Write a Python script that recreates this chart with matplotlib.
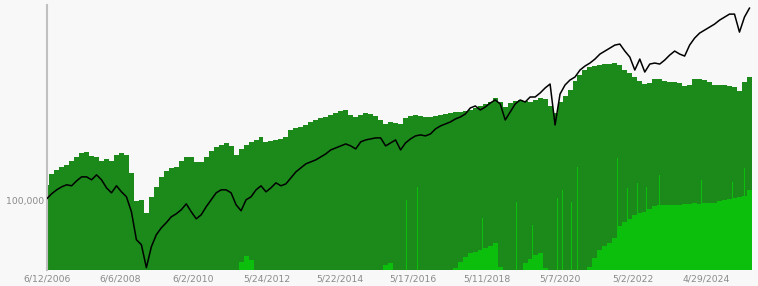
import numpy as np
import matplotlib.pyplot as plt
from matplotlib.ticker import FuncFormatter, NullLocator, FixedLocator

# one sample every 34 trading days, starting 6/12/2006
step = 34

# portfolio value (thousands), plotted on the log axis
portfolio_k = [
    102.0, 107.3, 111.6, 115.0, 117.4, 116.2, 122.1, 127.1, 127.1, 123.4,
    129.7, 123.4, 113.9, 108.3, 116.2, 109.4, 104.1, 89.6, 67.7, 64.4,
    51.2, 63.1, 71.2, 76.3, 80.3, 85.2, 87.8, 91.4, 97.0, 89.6,
    83.5, 86.9, 94.2, 101.0, 108.3, 111.6, 111.6, 108.3, 96.1, 90.5,
    101.0, 104.1, 111.6, 116.2, 109.4, 113.9, 119.7, 116.2, 118.5, 125.9,
    133.6, 139.1, 144.8, 147.7, 150.7, 155.3, 160.0, 166.5, 169.9, 173.3,
    176.8, 173.3, 168.2, 180.4, 184.0, 185.9, 187.8, 187.8, 173.3, 178.6,
    184.0, 166.5, 178.6, 185.9, 191.6, 193.5, 191.6, 195.4, 205.4, 211.7,
    215.9, 220.3, 227.0, 231.6, 238.7, 253.5, 258.6, 248.4, 256.0, 266.4,
    274.6, 263.8, 224.7, 243.5, 263.8, 274.6, 269.1, 282.9, 282.9, 294.5,
    309.6, 322.2, 213.8, 291.5, 319.0, 335.4, 345.6, 370.6, 385.7, 397.5,
    413.6, 434.9, 448.2, 462.0, 475.9, 480.7, 448.2, 422.0, 370.6, 413.6,
    363.3, 393.5, 397.5, 393.5, 409.5, 430.5, 448.2, 434.9, 426.3, 475.9,
    510.4, 536.5, 552.9, 569.8, 587.1, 610.9, 629.9, 649.0, 649.0, 542.0,
    629.9, 689.0,
]

# total invested (thousands), dark green
invested_k = [
    85, 96, 100, 103, 105, 109, 113, 117, 118, 114,
    113, 109, 111, 109, 115, 117, 115, 97, 69, 70,
    57, 73, 83, 93, 99, 102, 103, 109, 113, 113,
    108, 108, 113, 119, 123, 125, 127, 124, 115, 121,
    125, 128, 130, 133, 128, 129, 130, 131, 133, 140,
    142, 143, 145, 148, 150, 152, 153, 155, 157, 159,
    160, 155, 153, 155, 157, 156, 154, 150, 146, 148,
    147, 146, 152, 154, 155, 154, 153, 153, 154, 155,
    156, 157, 158, 158, 159, 160, 162, 164, 166, 168,
    172, 168, 163, 167, 169, 170, 169, 168, 170, 172,
    171, 164, 157, 168, 174, 180, 189, 195, 200, 203,
    204, 205, 206, 206, 207, 205, 200, 197, 193, 189,
    186, 187, 191, 191, 189, 188, 188, 187, 184, 185,
    191, 191, 190, 188, 185, 185, 185, 184, 183, 179,
    188, 193,
]

# cash part (thousands), light green
cash_k = [
    0, 0, 0, 0, 0, 0, 0, 0, 0, 0,
    0, 0, 0, 0, 0, 0, 0, 0, 0, 0,
    0, 0, 0, 0, 0, 0, 0, 0, 0, 0,
    0, 0, 0, 0, 0, 0, 0, 0, 0, 8,
    14, 10, 0, 0, 0, 0, 0, 0, 0, 0,
    0, 0, 0, 0, 0, 0, 0, 0, 0, 0,
    0, 0, 0, 0, 0, 0, 0, 0, 5, 7,
    0, 0, 0, 0, 0, 0, 0, 0, 0, 0,
    0, 0, 2, 8, 13, 17, 18, 20, 22, 24,
    27, 3, 0, 0, 0, 0, 7, 11, 15, 17,
    2, 0, 0, 0, 0, 0, 0, 0, 0, 3,
    12, 20, 24, 27, 32, 44, 48, 51, 55, 57,
    58, 61, 64, 65, 65, 65, 65, 65, 66, 66,
    67, 66, 67, 67, 67, 69, 70, 71, 72, 73,
    74, 80,
]

# single-day cash spikes (trading day, thousands)
spike_day = [1850, 1932, 2103, 2328, 2457, 2532, 2975, 3112, 3207, 3316, 3487, 3521,
             3582, 3623, 3658, 3726, 3896, 3964, 4032, 4094, 4182, 4469, 4680, 4761]
spike_k = [47, 40, 50, 40, 70, 83, 52, 50, 68, 45, 72, 80,
           68, 103, 97, 63, 112, 82, 87, 83, 95, 90, 88, 102]

tick_days = [0, 500, 1000, 1500, 2000, 2500, 3000, 3500, 4000, 4500]
tick_labels = ['6/12/2006', '6/6/2008', '6/2/2010', '5/24/2012', '5/22/2014',
               '5/17/2016', '5/11/2018', '5/7/2020', '5/2/2022', '4/29/2024']

bg = '#f8f8f8'
dark_green = '#1b8a1b'
light_green = '#0cbf0c'
grey = '#8a8a8a'

days = np.arange(len(portfolio_k)) * step

fig = plt.figure(figsize=(7.58, 2.86), dpi=100, facecolor=bg)
ax = fig.add_axes([0.0616, 0.056, 0.9304, 0.9265], facecolor=bg)

# green bars on the linear axis
ax.bar(days, invested_k, width=step, color=dark_green, linewidth=0)
ax.bar(days, cash_k, width=step, color=light_green, linewidth=0)
ax.bar(spike_day, spike_k, width=5, color=light_green, linewidth=0)
ax.set_ylim(0, 265)
ax.set_xlim(0, days[-1] + step / 2)
ax.yaxis.set_major_locator(NullLocator())

# portfolio line on a log axis
ax2 = ax.twinx()
ax2.plot(days, np.array(portfolio_k) * 1000, color='black', linewidth=1.1)
ax2.set_yscale('log')
ax2.set_ylim(50000, 711000)
ax2.yaxis.tick_left()
ax2.yaxis.set_major_locator(FixedLocator([100000]))
ax2.yaxis.set_minor_locator(NullLocator())
ax2.yaxis.set_major_formatter(FuncFormatter(lambda v, p: '{:,.0f}'.format(v)))
ax2.tick_params(axis='y', length=0, pad=2, labelsize=6.7, labelcolor=grey)

ax.set_xticks(tick_days)
ax.set_xticklabels(tick_labels)
ax.tick_params(axis='x', length=0, pad=3.5, labelsize=6.7, labelcolor=grey)

for a in (ax, ax2):
    for side in ('top', 'right', 'bottom'):
        a.spines[side].set_visible(False)
ax2.spines['left'].set_visible(False)
ax.spines['left'].set_color('#c0c0c0')
ax.spines['left'].set_linewidth(1.5)
ax.spines['left'].set_zorder(5)

fig.savefig('out.png', dpi=100, facecolor=bg)
